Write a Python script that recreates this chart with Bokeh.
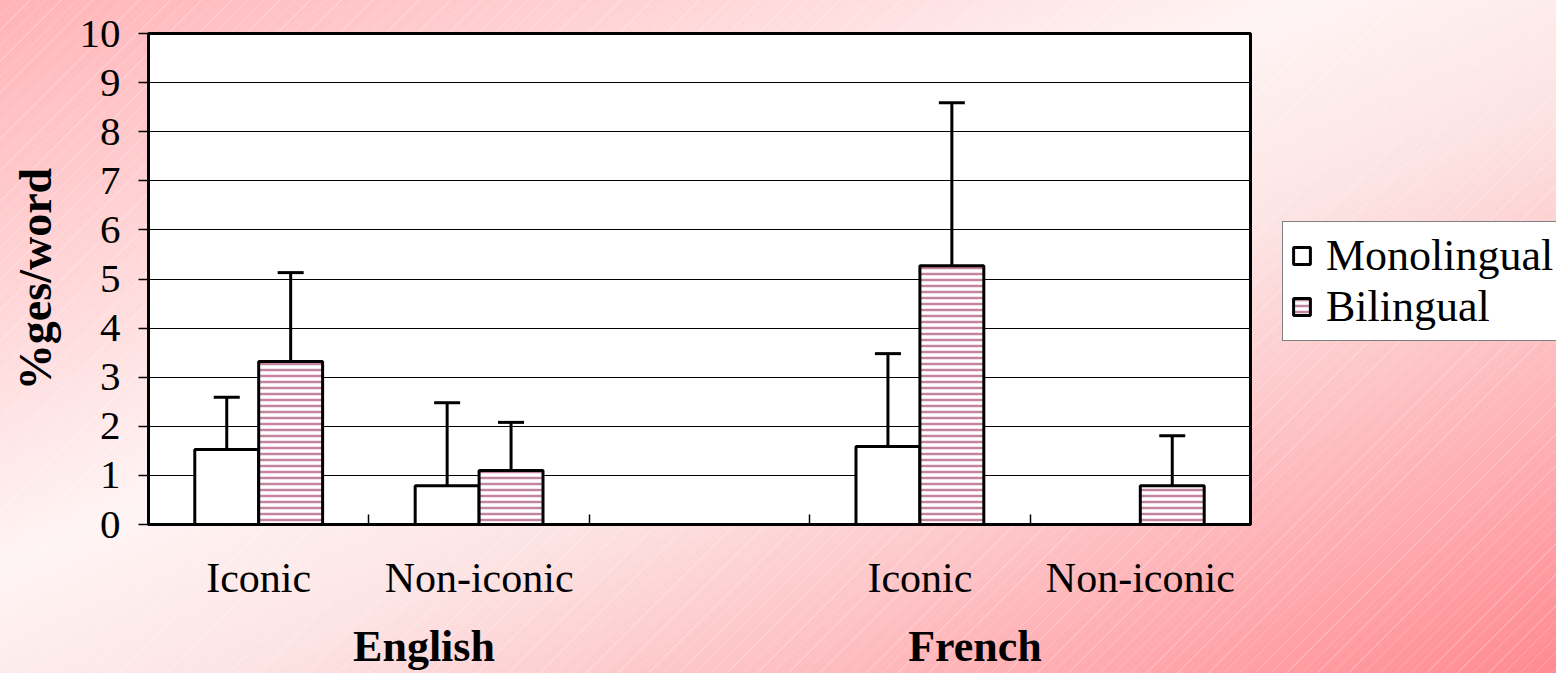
from bokeh.plotting import figure
from bokeh.layouts import row
from bokeh.models import (LinearAxis, FixedTicker, Range1d, Legend, LegendItem,
                          ColumnDataSource, Whisker, TeeHead)
from bokeh.embed import file_html
from bokeh.resources import INLINE

# ---------------- data ----------------
languages = ["English", "French"]
slot_labels = ["Iconic", "Non-iconic", "", "Iconic", "Non-iconic"]
mono_values = [1.53, 0.79, float("nan"), 1.59, 0.0]
mono_upper = [2.59, 2.48, float("nan"), 3.48, 0.0]
bi_values = [3.32, 1.10, float("nan"), 5.27, 0.79]
bi_upper = [5.13, 2.08, float("nan"), 8.59, 1.81]
series_names = ["Monolingual", "Bilingual"]
y_ticks = list(range(0, 11))

FONT = "Liberation Serif"
n = len(slot_labels)
centers = [i + 0.5 for i in range(n)]
bar_w = 0.29

mono_style = dict(fill_color="white", line_color="black", line_width=3)
bi_style = dict(fill_color="white", line_color="black", line_width=3,
                hatch_pattern="horizontal_line", hatch_color="#c4839f",
                hatch_weight=2.5, hatch_scale=6)

p = figure(width=1270, height=673, output_backend="svg", toolbar_location=None,
           x_range=Range1d(0, n), y_range=Range1d(0, 10),
           min_border_left=148, min_border_right=20, min_border_top=33,
           min_border_bottom=149, x_axis_location=None, y_axis_location=None)

p.border_fill_color = None
p.border_fill_alpha = 0
p.background_fill_color = "white"
p.outline_line_color = "black"
p.outline_line_width = 3

# grid
p.xgrid.visible = False
p.ygrid.grid_line_color = "black"
p.ygrid.grid_line_width = 1
p.ygrid.ticker = FixedTicker(ticks=y_ticks)

# y axis
yax = LinearAxis(ticker=FixedTicker(ticks=y_ticks, minor_ticks=[]))
yax.axis_line_width = 3
yax.axis_line_color = "black"
yax.major_tick_in = 0
yax.major_tick_out = 10
yax.major_tick_line_width = 1.5
yax.major_label_text_font = FONT
yax.major_label_text_font_size = "41px"
yax.major_label_text_color = "black"
yax.major_label_standoff = 18
yax.axis_label = "%ges/word"
yax.axis_label_text_font = FONT
yax.axis_label_text_font_style = "bold"
yax.axis_label_text_font_size = "46px"
yax.axis_label_text_color = "black"
yax.axis_label_standoff = 16
p.add_layout(yax, "left")

# x axis: category labels at centres, boundary ticks as minor ticks
cat_centers = [c for c, s in zip(centers, slot_labels) if s]
xax = LinearAxis(ticker=FixedTicker(ticks=cat_centers, minor_ticks=list(range(n + 1))))
xax.major_label_overrides = {c: s for c, s in zip(centers, slot_labels) if s}
xax.axis_line_width = 3
xax.axis_line_color = "black"
xax.major_tick_in = 0
xax.major_tick_out = 0
xax.minor_tick_in = 10
xax.minor_tick_out = 0
xax.minor_tick_line_width = 1.5
xax.minor_tick_line_color = "black"
xax.major_label_text_font = FONT
xax.major_label_text_font_size = "42px"
xax.major_label_text_color = "black"
xax.major_label_standoff = 30
p.add_layout(xax, "below")

# group axis
per = n / len(languages)
lang_pos = [(i + 0.5) * per for i in range(len(languages))]
gax = LinearAxis(ticker=FixedTicker(ticks=lang_pos, minor_ticks=[]))
gax.major_label_overrides = {pos: lang for pos, lang in zip(lang_pos, languages)}
gax.axis_line_color = None
gax.major_tick_line_color = None
gax.major_label_text_font = FONT
gax.major_label_text_font_style = "bold"
gax.major_label_text_font_size = "44px"
gax.major_label_text_color = "black"
gax.major_label_standoff = 12
p.add_layout(gax, "below")

# bars
src = ColumnDataSource(dict(
    xm=[c - bar_w / 2 for c in centers],
    xb=[c + bar_w / 2 for c in centers],
    mono=mono_values, mono_up=mono_upper,
    bi=bi_values, bi_up=bi_upper,
))
p.vbar(x="xm", top="mono", bottom=0, width=bar_w, source=src, **mono_style)
p.vbar(x="xb", top="bi", bottom=0, width=bar_w, source=src, **bi_style)

for xcol, lo, up in (("xm", "mono", "mono_up"), ("xb", "bi", "bi_up")):
    w = Whisker(source=src, base=xcol, lower=lo, upper=up, dimension="height",
                line_color="black", line_width=3,
                upper_head=TeeHead(size=26, line_width=3, line_color="black"),
                lower_head=None)
    p.add_layout(w)

# ---------------- legend panel ----------------
# hidden copies of the bar renderers give the legend its swatches
lg = figure(width=286, height=673, output_backend="svg", toolbar_location=None,
            x_range=Range1d(0, n), y_range=Range1d(0, 10),
            min_border_left=0, min_border_right=0, min_border_top=0, min_border_bottom=0,
            x_axis_location=None, y_axis_location=None)
lg.grid.visible = False
lg.outline_line_color = None
lg.border_fill_color = None
lg.background_fill_color = None
lr_mono = lg.vbar(x="xm", top="mono", bottom=0, width=bar_w, source=src, **mono_style)
lr_bi = lg.vbar(x="xb", top="bi", bottom=0, width=bar_w, source=src, **bi_style)
lr_mono.visible = False
lr_bi.visible = False

legend = Legend(items=[LegendItem(label=series_names[0], renderers=[lr_mono]),
                       LegendItem(label=series_names[1], renderers=[lr_bi])],
                location=(12, 183), click_policy="none")
legend.label_text_font = FONT
legend.label_text_font_size = "44px"
legend.label_text_color = "black"
legend.glyph_width = 21
legend.glyph_height = 21
legend.label_standoff = 14
legend.padding = 8
legend.spacing = 0
legend.margin = 0
legend.border_line_color = "black"
legend.border_line_width = 1
legend.background_fill_color = "white"
legend.background_fill_alpha = 1
lg.add_layout(legend, "center")

layout = row(p, lg, spacing=0)
layout.styles = {
    "background": (
        "repeating-linear-gradient(135deg, rgba(255,255,255,0) 0px, rgba(255,255,255,0) 10px, "
        "rgba(255,255,255,0.22) 10px, rgba(255,255,255,0.22) 11px), "
        "linear-gradient(to bottom right, #ffb3b7 0%, #fff4f4 42%, #fde3e3 58%, #ff8a91 100%)"
    )
}

open("out.html", "w").write(file_html(layout, INLINE))
